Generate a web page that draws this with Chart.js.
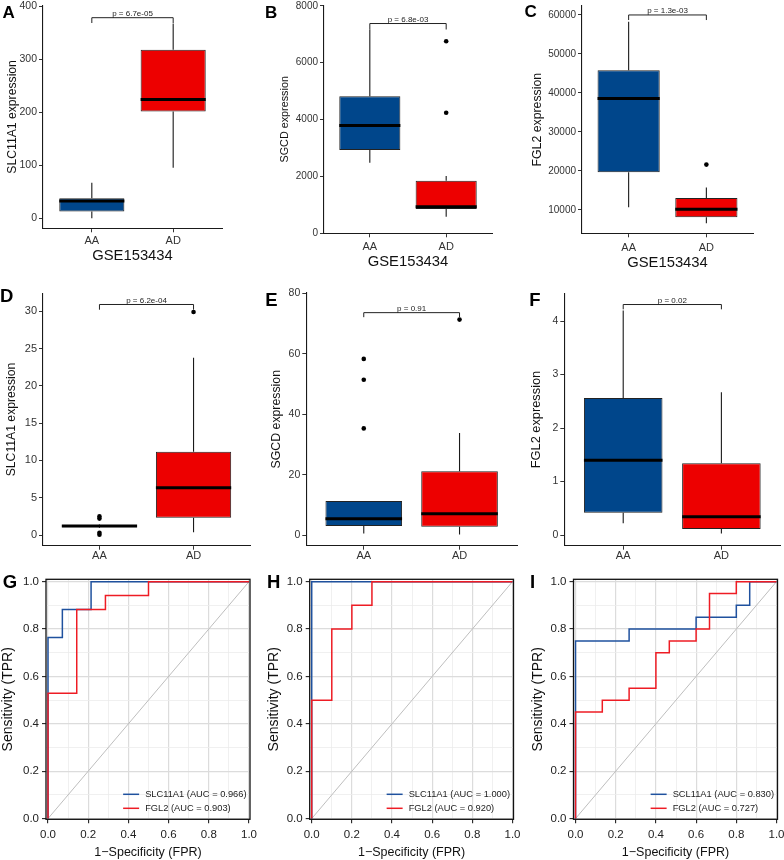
<!DOCTYPE html>
<html><head><meta charset="utf-8">
<script src="https://cdn.jsdelivr.net/npm/chart.js@4.4.1/dist/chart.umd.min.js"></script>
<style>
html,body{margin:0;padding:0;background:#fff}
body{width:784px;height:860px;position:relative;overflow:hidden}
canvas{position:absolute;display:block}
</style></head><body>
<canvas id="cA" width="262" height="280" style="left:0px;top:0px;width:262px;height:280px"></canvas>
<canvas id="cB" width="260" height="280" style="left:262px;top:0px;width:260px;height:280px"></canvas>
<canvas id="cC" width="262" height="280" style="left:522px;top:0px;width:262px;height:280px"></canvas>
<canvas id="cD" width="262" height="290" style="left:0px;top:280px;width:262px;height:290px"></canvas>
<canvas id="cE" width="260" height="290" style="left:262px;top:280px;width:260px;height:290px"></canvas>
<canvas id="cF" width="262" height="290" style="left:522px;top:280px;width:262px;height:290px"></canvas>
<canvas id="cG" width="262" height="300" style="left:0px;top:560px;width:262px;height:300px"></canvas>
<canvas id="cH" width="260" height="300" style="left:262px;top:560px;width:260px;height:300px"></canvas>
<canvas id="cI" width="262" height="300" style="left:522px;top:560px;width:262px;height:300px"></canvas>
<script>
// ---------------- DATA ----------------
const groups = ['AA', 'AD'];

// Panel A: SLC11A1, GSE153434
const A_lower = [0, 95];
const A_q1 = [12.5, 201];
const A_median = [32.5, 224];
const A_q3 = [37.5, 317.5];
const A_upper = [67, 367];
const A_outAA = [];
const A_outAD = [];
const A_yTicks = [0, 100, 200, 300, 400];
const A_bracket = [378, 10];
const A_p = '6.7e-05';

// Panel B: SGCD, GSE153434
const B_lower = [2483, 586];
const B_q1 = [2928, 855];
const B_median = [3795, 937];
const B_q3 = [4825, 1850];
const B_upper = [7168, 2014];
const B_outAA = [];
const B_outAD = [6758, 4240];
const B_yTicks = [0, 2000, 4000, 6000, 8000];
const B_bracket = [7379, 210];
const B_p = '6.8e-03';

// Panel C: FGL2, GSE153434
const C_lower = [10684, 6581];
const C_q1 = [19658, 8120];
const C_median = [38547, 10171];
const C_q3 = [45812, 13077];
const C_upper = [58290, 15726];
const C_outAA = [];
const C_outAD = [21624];
const C_yTicks = [10000, 20000, 30000, 40000, 50000, 60000];
const C_bracket = [60000, 1300];
const C_p = '1.3e-03';

// Panel D: SLC11A1
const D_lower = [0.95, 0.36];
const D_q1 = [1.05, 2.32];
const D_median = [1.2, 6.34];
const D_q3 = [1.35, 11.16];
const D_upper = [1.4, 23.75];
const D_outAA = [2.5, 2.2, 0.3, 0.05];
const D_outAD = [29.9];
const D_yTicks = [0, 5, 10, 15, 20, 25, 30];
const D_bracket = [30.9, 0.7];
const D_p = '6.2e-04';

// Panel E: SGCD
const E_lower = [0.55, 0.2];
const E_q1 = [2.98, 2.76];
const E_median = [5.4, 7.06];
const E_q3 = [11.26, 21.1];
const E_upper = [11.26, 33.8];
const E_outAA = [58.3, 51.4, 35.3];
const E_outAD = [71.3];
const E_yTicks = [0, 20, 40, 60, 80];
const E_bracket = [73.6, 1.5];
const E_p = '0.91';

// Panel F: FGL2
const F_lower = [0.22, 0.03];
const F_q1 = [0.417, 0.112];
const F_median = [1.40, 0.343];
const F_q3 = [2.56, 1.34];
const F_upper = [4.2, 2.67];
const F_outAA = [];
const F_outAD = [];
const F_yTicks = [0, 1, 2, 3, 4];
const F_bracket = [4.31, 0.09];
const F_p = '0.02';

// ROC panels
const rocTicks = [0, 0.1, 0.2, 0.3, 0.4, 0.5, 0.6, 0.7, 0.8, 0.9, 1.0];
const rocDiagonal = [0, 1];

const G_fpr_SLC11A1 = [0, 0, 0.0714, 0.0714, 0.2143, 0.2143, 1];
const G_tpr_SLC11A1 = [0, 0.7647, 0.7647, 0.8824, 0.8824, 1, 1];
const G_fpr_FGL2 = [0, 0, 0.1429, 0.1429, 0.2857, 0.2857, 0.5, 0.5, 1];
const G_tpr_FGL2 = [0, 0.5294, 0.5294, 0.8824, 0.8824, 0.9412, 0.9412, 1, 1];
const G_labels = ['SLC11A1 (AUC = 0.966)', 'FGL2 (AUC = 0.903)'];

const H_fpr_SLC11A1 = [0, 0, 1];
const H_tpr_SLC11A1 = [0, 1, 1];
const H_fpr_FGL2 = [0, 0, 0.1, 0.1, 0.2, 0.2, 0.3, 0.3, 1];
const H_tpr_FGL2 = [0, 0.5, 0.5, 0.8, 0.8, 0.9, 0.9, 1, 1];
const H_labels = ['SLC11A1 (AUC = 1.000)', 'FGL2 (AUC = 0.920)'];

const I_fpr_SCL11A1 = [0, 0, 0.2667, 0.2667, 0.6, 0.6, 0.8, 0.8, 0.8667, 0.8667, 1];
const I_tpr_SCL11A1 = [0, 0.75, 0.75, 0.8, 0.8, 0.85, 0.85, 0.9, 0.9, 1, 1];
const I_fpr_FGL2 = [0, 0, 0.1333, 0.1333, 0.2667, 0.2667, 0.4, 0.4, 0.4667, 0.4667, 0.6, 0.6, 0.6667, 0.6667, 0.8, 0.8, 1];
const I_tpr_FGL2 = [0, 0.45, 0.45, 0.5, 0.5, 0.55, 0.55, 0.7, 0.7, 0.75, 0.75, 0.8, 0.8, 0.95, 0.95, 1, 1];
const I_labels = ['SCL11A1 (AUC = 0.830)', 'FGL2 (AUC = 0.727)'];

// ---------------- STYLE ----------------
const FONT = "'Liberation Sans', Arial, Helvetica, sans-serif";
const boxColors = ['#00468B', '#ED0000'];
const rocBlue = '#1F519E';
const rocRed = '#EE1C24';

function boxChart(id, d, g) {
  const plugin = {
    id: 'boxExtras',
    afterDatasetsDraw(chart) {
      const c = chart.ctx, ys = chart.scales.y;
      const bars = chart.getDatasetMeta(0).data;
      c.save();
      bars.forEach((bar, i) => {
        const yq1 = ys.getPixelForValue(d.q1[i]);
        const yq3 = ys.getPixelForValue(d.q3[i]);
        c.strokeStyle = '#1a1a1a'; c.lineWidth = 1.1; c.lineCap = 'butt';
        c.beginPath();
        c.moveTo(bar.x, yq3); c.lineTo(bar.x, ys.getPixelForValue(d.upper[i]));
        c.moveTo(bar.x, yq1); c.lineTo(bar.x, ys.getPixelForValue(d.lower[i]));
        c.stroke();
        const ym = ys.getPixelForValue(d.median[i]);
        c.strokeStyle = '#000'; c.lineWidth = 3;
        c.beginPath();
        c.moveTo(bar.x - bar.width / 2, ym); c.lineTo(bar.x + bar.width / 2, ym);
        c.stroke();
      });
      c.restore();
    },
    afterDraw(chart) {
      const c = chart.ctx, ys = chart.scales.y, xs = chart.scales.x;
      const x1 = xs.getPixelForValue(1), x2 = xs.getPixelForValue(2);
      const yb = ys.getPixelForValue(d.bracket[0]);
      const yt = ys.getPixelForValue(d.bracket[0] - d.bracket[1]);
      c.save();
      c.strokeStyle = '#222'; c.lineWidth = 1;
      c.beginPath();
      c.moveTo(x1, yt); c.lineTo(x1, yb); c.lineTo(x2, yb); c.lineTo(x2, yt);
      c.stroke();
      c.fillStyle = '#222'; c.font = '8px ' + FONT;
      c.textAlign = 'center'; c.textBaseline = 'alphabetic';
      c.fillText('p = ' + d.p, (x1 + x2) / 2, yb - 1.5);
      c.fillStyle = '#000'; c.font = 'bold ' + g.letterSize + 'px ' + FONT;
      c.textAlign = 'left';
      c.fillText(g.letter, g.letterX, g.letterY);
      c.restore();
    }
  };
  const outliers = [];
  d.outAA.forEach(v => outliers.push({x: 1, y: v}));
  d.outAD.forEach(v => outliers.push({x: 2, y: v}));
  new Chart(document.getElementById(id), {
    type: 'bar',
    data: {
      datasets: [{
        type: 'bar',
        data: groups.map((k, i) => ({x: i + 1, y: [d.q1[i], d.q3[i]]})),
        backgroundColor: boxColors,
        borderColor: '#222',
        borderWidth: 1,
        borderSkipped: false,
        barPercentage: 0.8,
        categoryPercentage: 1
      }, {
        type: 'scatter',
        data: outliers,
        pointRadius: 2.3,
        pointBackgroundColor: '#000',
        pointBorderWidth: 0
      }]
    },
    options: {
      responsive: false, animation: false, devicePixelRatio: 1, events: [],
      layout: {padding: {left: 0, top: g.T, right: g.W - g.R, bottom: 0}},
      plugins: {legend: {display: false}, tooltip: {enabled: false}},
      scales: {
        x: {
          type: 'linear', min: 0.4, max: 2.6, offset: false, bounds: 'data',
          afterBuildTicks: s => { s.ticks = groups.map((k, i) => ({value: i + 1})); },
          ticks: {callback: v => groups[v - 1] || '', font: {family: FONT, size: 11}, color: '#333',
                  padding: g.xPad, autoSkip: false, maxRotation: 0},
          grid: {display: true, offset: false, drawOnChartArea: false, drawTicks: true, tickLength: 4,
                 tickColor: '#333', tickWidth: 1},
          border: {display: true, color: '#1a1a1a', width: 1.1},
          title: g.xTitle ? {display: true, text: g.xTitle, font: {family: FONT, size: 14.8}, color: '#111',
                 padding: {top: 0, bottom: g.xTitlePad}} : {display: false},
          afterFit: s => { s.height = g.H - g.B; s.paddingLeft = 0; s.paddingRight = 0; }
        },
        y: {
          type: 'linear', min: g.yMin, max: g.yMax, bounds: 'data',
          afterBuildTicks: s => { s.ticks = d.yTicks.map(v => ({value: v})); },
          ticks: {callback: v => String(v), font: {family: FONT, size: g.tickSize}, color: '#333',
                  padding: 2, autoSkip: false},
          grid: {display: true, drawOnChartArea: false, drawTicks: true, tickLength: 4, tickColor: '#333'},
          border: {display: true, color: '#1a1a1a', width: 1.1},
          title: {display: true, text: g.yTitle, font: {family: FONT, size: g.yTitleSize}, color: '#111',
                  padding: {top: g.yTitlePad, bottom: 0}},
          afterFit: s => { s.width = g.L; s.paddingTop = 0; s.paddingBottom = 0; }
        }
      }
    },
    plugins: [plugin]
  });
}

function isMajor(v) { return Math.round(v * 10) % 2 === 0; }

function rocChart(id, series, g) {
  const datasets = [{data: rocDiagonal.map(v => ({x: v, y: v})), borderColor: '#BEBEBE', borderWidth: 1, order: 3}];
  series.forEach((s, k) => datasets.push({
    data: s.fpr.map((f, i) => ({x: f, y: s.tpr[i]})),
    borderColor: s.color, borderWidth: 1.5, order: 2 - k
  }));
  datasets.forEach(ds => Object.assign(ds, {showLine: true, pointRadius: 0, pointHoverRadius: 0, fill: false, tension: 0}));
  const plugin = {
    id: 'rocExtras',
    afterDatasetsDraw(chart) {
      const c = chart.ctx, ca = chart.chartArea;
      c.save();
      c.strokeStyle = '#111'; c.lineWidth = 1.3;
      c.strokeRect(ca.left, ca.top, ca.right - ca.left, ca.bottom - ca.top);
      c.restore();
    },
    afterDraw(chart) {
      const c = chart.ctx, ca = chart.chartArea;
      c.save();
      c.font = '9.3px ' + FONT;
      const w = Math.max(...series.map(s => c.measureText(s.label).width));
      const tx = ca.right - 3.5 - w;
      series.forEach((s, k) => {
        const y = ca.bottom - 25 + k * 14;
        c.strokeStyle = s.color; c.lineWidth = 1.5;
        c.beginPath(); c.moveTo(tx - 22, y); c.lineTo(tx - 6, y); c.stroke();
        c.fillStyle = '#222'; c.textBaseline = 'middle'; c.textAlign = 'left';
        c.fillText(s.label, tx, y);
      });
      c.fillStyle = '#000'; c.font = 'bold 18.5px ' + FONT; c.textBaseline = 'alphabetic';
      c.fillText(g.letter, g.letterX, g.letterY);
      c.restore();
    }
  };
  const gridOpts = {
    display: true, drawOnChartArea: true, drawTicks: true, tickLength: 4, offset: false,
    color: ctx => (ctx.tick && isMajor(ctx.tick.value)) ? '#DCDCDC' : '#ECECEC',
    lineWidth: ctx => (ctx.tick && isMajor(ctx.tick.value)) ? 1.2 : 0.8,
    tickColor: ctx => (ctx.tick && isMajor(ctx.tick.value)) ? '#222' : 'rgba(0,0,0,0)',
    tickWidth: 1.1
  };
  new Chart(document.getElementById(id), {
    type: 'scatter',
    data: {datasets},
    options: {
      responsive: false, animation: false, devicePixelRatio: 1, events: [],
      layout: {padding: {left: 0, top: g.T, right: g.W - g.R, bottom: 0}},
      plugins: {legend: {display: false}, tooltip: {enabled: false}},
      scales: {
        x: {
          type: 'linear', min: -0.01, max: 1.005, bounds: 'data',
          afterBuildTicks: s => { s.ticks = rocTicks.map(v => ({value: v})); },
          ticks: {callback: v => isMajor(v) ? v.toFixed(1) : '', font: {family: FONT, size: 11.5}, color: '#222',
                  padding: 4.5, autoSkip: false, maxRotation: 0},
          grid: gridOpts,
          border: {display: false},
          title: {display: true, text: '1\u2212Specificity (FPR)', font: {family: FONT, size: 12.5}, color: '#111',
                  padding: {top: 0, bottom: 0}},
          afterFit: s => { s.height = g.H - g.B; s.paddingLeft = 0; s.paddingRight = 0; }
        },
        y: {
          type: 'linear', min: -0.003, max: 1.01, bounds: 'data',
          afterBuildTicks: s => { s.ticks = rocTicks.map(v => ({value: v})); },
          ticks: {callback: v => isMajor(v) ? v.toFixed(1) : '', font: {family: FONT, size: 11.5}, color: '#222',
                  padding: 3, autoSkip: false},
          grid: gridOpts,
          border: {display: false},
          title: {display: true, text: 'Sensitivity (TPR)', font: {family: FONT, size: 14}, color: '#111',
                  padding: {top: g.yTitlePad, bottom: 0}},
          afterFit: s => { s.width = g.L; s.paddingTop = 0; s.paddingBottom = 0; }
        }
      }
    },
    plugins: [plugin]
  });
}

// ---------------- BUILD ----------------
boxChart('cA', {lower: A_lower, q1: A_q1, median: A_median, q3: A_q3, upper: A_upper, outAA: A_outAA, outAD: A_outAD, yTicks: A_yTicks, bracket: A_bracket, p: A_p},
  {W: 262, H: 280, L: 43, R: 222, T: 5.5, B: 228.3, yMin: -19, yMax: 401, tickSize: 10.5, yTitle: 'SLC11A1 expression', yTitleSize: 12.2, yTitlePad: 5.4,
   xTitle: 'GSE153434', xTitlePad: 15.4, xPad: 2, letter: 'A', letterSize: 17, letterX: 2.5, letterY: 18.3});
boxChart('cB', {lower: B_lower, q1: B_q1, median: B_median, q3: B_q3, upper: B_upper, outAA: B_outAA, outAD: B_outAD, yTicks: B_yTicks, bracket: B_bracket, p: B_p},
  {W: 260, H: 280, L: 62, R: 230, T: 5.3, B: 233.3, yMin: 0, yMax: 8020, tickSize: 10, yTitle: 'SGCD expression', yTitleSize: 10.8, yTitlePad: 16.5,
   xTitle: 'GSE153434', xTitlePad: 9.4, xPad: 3, letter: 'B', letterSize: 17, letterX: 3, letterY: 18.3});
boxChart('cC', {lower: C_lower, q1: C_q1, median: C_median, q3: C_q3, upper: C_upper, outAA: C_outAA, outAD: C_outAD, yTicks: C_yTicks, bracket: C_bracket, p: C_p},
  {W: 262, H: 280, L: 60, R: 231, T: 6, B: 233.3, yMin: 4000, yMax: 62300, tickSize: 10, yTitle: 'FGL2 expression', yTitleSize: 12.3, yTitlePad: 8.5,
   xTitle: 'GSE153434', xTitlePad: 8.1, xPad: 4, letter: 'C', letterSize: 17, letterX: 2.5, letterY: 16.7});
boxChart('cD', {lower: D_lower, q1: D_q1, median: D_median, q3: D_q3, upper: D_upper, outAA: D_outAA, outAD: D_outAD, yTicks: D_yTicks, bracket: D_bracket, p: D_p},
  {W: 262, H: 290, L: 43, R: 250, T: 13.3, B: 265.7, yMin: -1.43, yMax: 32.4, tickSize: 11, yTitle: 'SLC11A1 expression', yTitleSize: 12.2, yTitlePad: 4.4,
   xTitle: null, xPad: 0, letter: 'D', letterSize: 18.5, letterX: 0, letterY: 21.7});
boxChart('cE', {lower: E_lower, q1: E_q1, median: E_median, q3: E_q3, upper: E_upper, outAA: E_outAA, outAD: E_outAD, yTicks: E_yTicks, bracket: E_bracket, p: E_p},
  {W: 260, H: 290, L: 44.3, R: 255, T: 12.7, B: 265.7, yMin: -3.5, yMax: 80.2, tickSize: 10.5, yTitle: 'SGCD expression', yTitleSize: 12.3, yTitlePad: 7.6,
   xTitle: null, xPad: 0, letter: 'E', letterSize: 18.5, letterX: 3.3, letterY: 26});
boxChart('cF', {lower: F_lower, q1: F_q1, median: F_median, q3: F_q3, upper: F_upper, outAA: F_outAA, outAD: F_outAD, yTicks: F_yTicks, bracket: F_bracket, p: F_p},
  {W: 262, H: 290, L: 42.3, R: 258.3, T: 13.3, B: 265.7, yMin: -0.2, yMax: 4.52, tickSize: 10.5, yTitle: 'FGL2 expression', yTitleSize: 12.8, yTitlePad: 7.2,
   xTitle: null, xPad: 0, letter: 'F', letterSize: 18.5, letterX: 7.3, letterY: 26});

rocChart('cG', [
  {fpr: G_fpr_SLC11A1, tpr: G_tpr_SLC11A1, label: G_labels[0], color: rocBlue},
  {fpr: G_fpr_FGL2, tpr: G_tpr_FGL2, label: G_labels[1], color: rocRed}],
  {W: 262, H: 300, L: 46, R: 250, T: 19.3, B: 259.3, yTitlePad: 0, letter: 'G', letterX: 2.7, letterY: 28.3});
rocChart('cH', [
  {fpr: H_fpr_SLC11A1, tpr: H_tpr_SLC11A1, label: H_labels[0], color: rocBlue},
  {fpr: H_fpr_FGL2, tpr: H_tpr_FGL2, label: H_labels[1], color: rocRed}],
  {W: 260, H: 300, L: 47.7, R: 251.5, T: 19.3, B: 259.3, yTitlePad: 3.3, letter: 'H', letterX: 5, letterY: 28.3});
rocChart('cI', [
  {fpr: I_fpr_SCL11A1, tpr: I_tpr_SCL11A1, label: I_labels[0], color: rocBlue},
  {fpr: I_fpr_FGL2, tpr: I_tpr_FGL2, label: I_labels[1], color: rocRed}],
  {W: 262, H: 300, L: 51.5, R: 255.5, T: 19.3, B: 259.3, yTitlePad: 7.6, letter: 'I', letterX: 8, letterY: 28.3});
</script>
</body></html>
